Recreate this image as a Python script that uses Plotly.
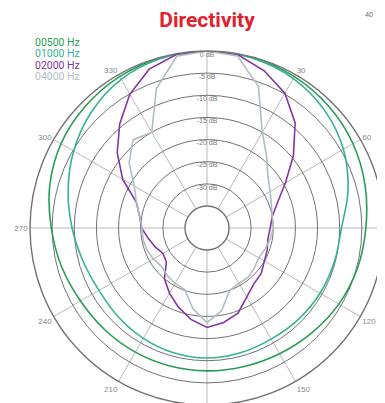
import plotly.graph_objects as go

# Directivity polar plot, values in dB
angles_15 = [0, 15, 30, 45, 60, 75, 90, 105, 120, 135, 150, 165,
             180, 195, 210, 225, 240, 255, 270, 285, 300, 315, 330, 345, 360]

hz500 = [0, -0.1, -0.5, -1.1, -1.9, -3.0, -4.1, -4.8, -5.6, -6.5, -7.2, -7.6,
         -7.7, -7.7, -7.6, -7.4, -7.0, -6.0, -4.8, -3.2, -1.9, -1.1, -0.5, -0.1, 0]

hz1000 = [0, -0.3, -1.0, -2.4, -4.4, -7.0, -9.6, -10.2, -10.5, -10.8, -11.0, -10.8,
          -10.6, -10.8, -11.2, -11.6, -11.8, -11.0, -9.5, -7.5, -5.2, -3.0, -1.2, -0.3, 0]

angles_10 = list(range(0, 370, 10))

hz2000 = [0, -0.2, -2.2, -4.8, -9.0, -14.5, -19.5, -23.0, -25.0, -25.7,
          -26.0, -25.5, -25.0, -24.0, -23.5, -22.0, -19.5, -18.3, -17.5,
          -19.0, -21.0, -23.0, -25.0, -28.0, -28.5, -27.5, -26.5, -25.2,
          -24.5, -23.0, -18.0, -13.5, -9.3, -5.1, -1.8, -0.2, 0]

hz4000 = [0, -0.5, -6.0, -15.0, -19.0, -22.0, -23.5, -24.5, -25.0, -25.0,
          -25.5, -26.0, -26.5, -26.0, -25.5, -25.5, -25.0, -21.0, -18.6,
          -21.5, -25.2, -25.5, -26.0, -26.5, -26.0, -25.5, -25.3, -25.3,
          -24.5, -23.0, -21.0, -17.0, -14.0, -15.0, -6.5, -0.6, 0]

freq_labels = ['00500 Hz', '01000 Hz', '02000 Hz', '04000 Hz']
colors = ['#2a9c55', '#35b394', '#8236a3', '#afbec5']

db_ticks = [0, -5, -10, -15, -20, -25, -30]
db_text = ['0 dB', '-5 dB', '-10 dB', '-15 dB', '-20 dB', '-25 dB', '-30 dB']

# 0, 90 and 180 fall outside the visible page, so they stay blank
ang_ticks = [0, 30, 60, 90, 120, 150, 180, 210, 240, 270, 300, 330]
ang_text = ['', '30', '60', '', '120', '150', '', '210', '240', '270', '300', '330']

W, H = 385, 403
# the page puts the figure 8px in from the top-left corner
OFF = 8
CX, CY, R = 207 - OFF, 228 - OFF, 177

fig = go.Figure()

# radial labels sit on the 0 degree spoke, just inside each ring
fig.add_trace(go.Scatterpolar(
    r=[v - 0.9 for v in db_ticks], theta=[0] * len(db_ticks),
    mode='text', text=db_text,
    textfont=dict(size=7, color='#777777', family='Liberation Sans'),
    showlegend=False, hoverinfo='skip'))

series = [(angles_15, hz500, 'spline'), (angles_15, hz1000, 'spline'),
          (angles_10, hz2000, 'linear'), (angles_10, hz4000, 'linear')]
for (th, vals, shape), name, col in zip(series, freq_labels, colors):
    fig.add_trace(go.Scatterpolar(
        r=vals, theta=th, mode='lines', name=name,
        line=dict(color=col, width=1.6, shape=shape),
        showlegend=False))

fig.update_layout(
    width=W, height=H,
    margin=dict(l=0, r=0, t=0, b=0),
    paper_bgcolor='white',
    title=dict(text='<b>Directivity</b>', x=CX / W, xanchor='center',
               y=1 - (20 - OFF) / H, yanchor='middle',
               font=dict(size=21, color='#e3202b', family='Roboto')),
    polar=dict(
        domain=dict(x=[(CX - R) / W, (CX + R) / W],
                    y=[1 - (CY + R) / H, 1 - (CY - R) / H]),
        hole=22 / R,
        bgcolor='white',
        radialaxis=dict(range=[-35, 0], tickvals=[-35, -30, -25, -20, -15, -10, -5],
                        showticklabels=False, ticks='', showline=False,
                        gridcolor='#727272', gridwidth=1.4),
        angularaxis=dict(rotation=90, direction='clockwise',
                         tickvals=ang_ticks, ticktext=ang_text, ticks='',
                         showline=True, linecolor='#727272', linewidth=1.4,
                         gridcolor='#b8b8b8', gridwidth=1.3,
                         tickfont=dict(size=8, color='#888888', family='Liberation Sans')),
    ),
)

# colored text legend in the top left corner
for i, (name, col) in enumerate(zip(freq_labels, colors)):
    fig.add_annotation(text=name, x=(33 - OFF) / W, xanchor='left',
                       y=1 - (42 - OFF + 11.5 * i) / H, yanchor='middle',
                       xref='paper', yref='paper', showarrow=False,
                       font=dict(size=10.5, color=col, family='Roboto'))

# page number cut off at the top edge
fig.add_annotation(text='40', x=(375 - OFF) / W, y=1.0, yanchor='top',
                   xref='paper', yref='paper', showarrow=False,
                   font=dict(size=7, color='#666666'))

fig.write_html("out.html")
